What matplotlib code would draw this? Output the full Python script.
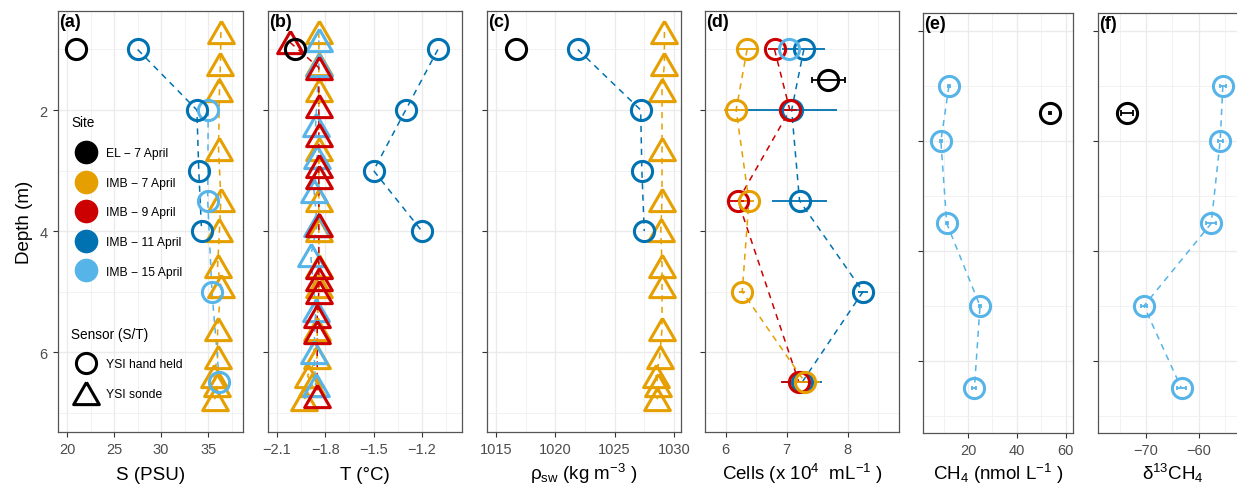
import matplotlib
matplotlib.use("Agg")
import matplotlib.pyplot as plt
from matplotlib.lines import Line2D

plt.rcParams["font.family"] = ["Liberation Sans", "DejaVu Sans"]
plt.rcParams["mathtext.fontset"] = "custom"
plt.rcParams["mathtext.rm"] = "Liberation Sans"
plt.rcParams["mathtext.it"] = "Liberation Sans:italic"
plt.rcParams["mathtext.default"] = "regular"

BLACK, ORANGE, RED, DBLUE, LBLUE = "#000000", "#E69F00", "#CC0000", "#0072B2", "#56B4E9"

# sonde depths (IMB 7 April)
son7_d = [0.71, 1.24, 1.67, 2.64, 3.48, 3.99, 4.58, 4.91, 5.62, 6.08, 6.39, 6.55, 6.78]
son7_S = [36.35, 36.3, 36.2, 36.1, 36.35, 36.2, 36.0, 36.35, 36.0, 36.0, 35.6, 35.9, 35.7]
son7_T = [-1.84, -1.84, -1.84, -1.84, -1.84, -1.84, -1.84, -1.84, -1.85, -1.85, -1.91, -1.88, -1.93]
son7_rho = [1029.2, 1029.2, 1029.0, 1029.0, 1029.0, 1028.9, 1029.0, 1029.0, 1029.0, 1028.8, 1028.5, 1028.7, 1028.6]
# sonde IMB 9 April
son9_d = [0.88, 1.3, 1.93, 2.42, 2.92, 3.1, 3.9, 4.6, 4.8, 5.0, 5.4, 5.67, 6.72]
son9_T = [-2.02, -1.84, -1.84, -1.84, -1.84, -1.84, -1.84, -1.84, -1.84, -1.84, -1.85, -1.85, -1.85]
# sonde IMB 15 April
son15_d = [0.85, 1.25, 2.25, 2.78, 3.33, 3.9, 4.4, 5.3, 6.0, 6.55]
son15_T = [-1.84, -1.84, -1.86, -1.85, -1.87, -1.85, -1.89, -1.86, -1.87, -1.86]

# hand held
el_d = [1.0]
el_S, el_T, el_rho = [21.0], [-1.99], [1016.7]
h11_d = [1.0, 2.0, 3.0, 4.0]
h11_S = [27.5, 33.8, 34.0, 34.3]
h11_T = [-1.1, -1.3, -1.5, -1.2]
h11_rho = [1021.9, 1027.2, 1027.3, 1027.5]
h15_d = [2.0, 3.5, 5.0, 6.5]
h15_S = [35.0, 34.95, 35.4, 36.2]

# cells
cell_d = [1.0, 2.0, 3.5, 5.0, 6.5]
cell7 = [6.35, 6.17, 6.38, 6.27, 7.3]
cell7_err = [0.18, 0.2, 0.08, 0.05, 0.25]
cell9_d = [1.0, 2.0, 3.5, 6.5]
cell9 = [6.8, 7.05, 6.2, 7.2]
cell9_err = [0.1, 0.12, 0.15, 0.3]
cell11 = [7.28, 7.08, 7.21, 8.25, 7.25]
cell11_err = [0.35, 0.75, 0.45, 0.08, 0.32]
cell15_d, cell15 = [1.0], [7.03]
cellEL_d, cellEL, cellEL_err = [1.5], [7.68], [0.27]

# methane
ch4_d = [1.0, 2.0, 3.5, 5.0, 6.5]
ch4 = [12.2, 8.9, 11.3, 24.9, 22.6]
ch4_err = [0.4, 0.4, 0.5, 0.6, 0.8]
ch4EL_d, ch4EL, ch4EL_err = [1.5], [53.5], [0.5]
d13 = [-55.5, -56.0, -57.7, -70.4, -63.3]
d13_err = [0.6, 0.5, 0.9, 0.6, 0.8]
d13EL, d13EL_err = [-73.6], [1.2]

W, H = 1237, 489
fig = plt.figure(figsize=(W / 100, H / 100), dpi=100)
def box(l, r, t, b):
    return [l / W, 1 - b / H, (r - l) / W, (b - t) / H]

TRI = [(0, 0.866), (-1, -0.866), (1, -0.866), (0, 0.866)]
CIRC_MS, TRI_MS = 14.5, 18.5

def series(ax, x, d, c, tri=False, xerr=None, line=True, cap=1.8):
    if line:
        ax.plot(x, d, ls=(0, (4, 3.5)), color=c, lw=1.1, zorder=2)
    if xerr is not None:
        ax.errorbar(x, d, xerr=xerr, fmt="none", ecolor=c, elinewidth=1.3, capsize=cap, capthick=1.3, zorder=3)
    ax.plot(x, d, ls="none", marker=TRI if tri else "o", ms=TRI_MS if tri else CIRC_MS,
            mfc="none", mec=c, mew=2.2, zorder=4)

def style(ax, xlim, xt, xm, ylim, yt, ym, label, tag, ylab=False, base=-0.1116):
    ax.set_xlim(*xlim); ax.set_ylim(*ylim)
    ax.set_xticks(xt); ax.set_xticks(xm, minor=True)
    ax.set_yticks(yt); ax.set_yticks(ym, minor=True)
    ax.grid(which="major", color="#EBEBEB", lw=1.0, zorder=0)
    ax.grid(which="minor", color="#F0F0F0", lw=0.6, zorder=0)
    ax.set_axisbelow(True)
    ax.tick_params(which="major", length=3.5, width=0.8, color="#333333", labelsize=10.5,
                   labelcolor="#4D4D4D", pad=4)
    ax.tick_params(which="minor", length=0)
    if not ylab:
        ax.set_yticklabels([])
    for s in ax.spines.values():
        s.set_color("#555555"); s.set_linewidth(0.9)
    ax.set_xlabel(label, fontsize=13.5, va="baseline")
    ax.xaxis.set_label_coords(0.5, base)
    ax.text(0.005, 0.995, tag, transform=ax.transAxes, ha="left", va="top", fontsize=13, fontweight="bold")

YL = (7.32, 0.364)
YL2 = (7.31, -0.327)

# (a) salinity
ax = fig.add_axes(box(58, 243, 12, 433))
series(ax, son7_S, son7_d, ORANGE, tri=True)
series(ax, h15_S, h15_d, LBLUE)
series(ax, h11_S, h11_d, DBLUE)
series(ax, el_S, el_d, BLACK, line=False)
style(ax, (19.04, 38.7), [20, 25, 30, 35], [22.5, 27.5, 32.5, 37.5], YL, [2, 4, 6], [1, 3, 5, 7],
      "S (PSU)", "(a)", ylab=True)
ax.set_ylabel("Depth (m)", fontsize=13.5, labelpad=5)
sites = ["EL \u2212 7 April", "IMB \u2212 7 April", "IMB \u2212 9 April", "IMB \u2212 11 April", "IMB \u2212 15 April"]
cols = [BLACK, ORANGE, RED, DBLUE, LBLUE]
h1 = [Line2D([], [], ls="none", marker="o", ms=16, mfc=c, mec=c) for c in cols]
leg1 = ax.legend(h1, sites, title="Site", loc="upper left", bbox_to_anchor=(0.027, 0.772), frameon=False,
                 fontsize=8.7, title_fontsize=9.8, labelspacing=1.46, handletextpad=0.43,
                 handlelength=2.4, alignment="left", borderpad=0.2)
ax.add_artist(leg1)
h2 = [Line2D([], [], ls="none", marker="o", ms=CIRC_MS, mfc="none", mec="k", mew=2.2),
      Line2D([], [], ls="none", marker=TRI, ms=TRI_MS, mfc="none", mec="k", mew=2.2)]
ax.legend(h2, ["YSI hand held", "YSI sonde"], title="Sensor (S/T)", loc="upper left",
          bbox_to_anchor=(0.027, 0.27), frameon=False, fontsize=8.7, title_fontsize=9.8,
          labelspacing=1.46, handletextpad=0.43, handlelength=2.4, alignment="left", borderpad=0.2)

# (b) temperature
ax = fig.add_axes(box(268, 462, 12, 433))
series(ax, son7_T, son7_d, ORANGE, tri=True)
series(ax, son15_T, son15_d, LBLUE, tri=True)
series(ax, son9_T, son9_d, RED, tri=True)
series(ax, h11_T, h11_d, DBLUE)
series(ax, el_T, el_d, BLACK, line=False)
style(ax, (-2.156, -0.95), [-2.1, -1.8, -1.5, -1.2], [-1.95, -1.65, -1.35, -1.05], YL, [2, 4, 6],
      [1, 3, 5, 7], "T (\u00b0C)", "(b)")

# (c) density
ax = fig.add_axes(box(487, 681, 12, 433))
series(ax, son7_rho, son7_d, ORANGE, tri=True)
series(ax, h11_rho, h11_d, DBLUE)
series(ax, el_rho, el_d, BLACK, line=False)
style(ax, (1014.24, 1030.6), [1015, 1020, 1025, 1030], [1017.5, 1022.5, 1027.5], YL, [2, 4, 6],
      [1, 3, 5, 7], r"$\rho_{sw}$ (kg m$^{-3}$ )", "(c)")

# (d) cells
ax = fig.add_axes(box(705, 899, 12, 433))
series(ax, cell11, cell_d, DBLUE, xerr=cell11_err, cap=0)
series(ax, cell9, cell9_d, RED, xerr=cell9_err, cap=0)
series(ax, cell7, cell_d, ORANGE, xerr=cell7_err, cap=0)
series(ax, cell15, cell15_d, LBLUE, line=False)
series(ax, cellEL, cellEL_d, BLACK, xerr=cellEL_err, line=False, cap=2.5)
style(ax, (5.66, 8.84), [6, 7, 8], [6.5, 7.5, 8.5], YL, [2, 4, 6], [1, 3, 5, 7],
      r"Cells (x 10$^{4}$  mL$^{-1}$ )", "(d)")

# (e) CH4
ax = fig.add_axes(box(923, 1073, 14, 434))
series(ax, ch4, ch4_d, LBLUE, xerr=ch4_err, cap=1.2)
series(ax, ch4EL, ch4EL_d, BLACK, xerr=ch4EL_err, line=False, cap=1.5)
style(ax, (1.6, 62.9), [20, 40, 60], [10, 30, 50], YL2, [0, 2, 4, 6], [1, 3, 5, 7],
      r"CH$_{4}$ (nmol L$^{-1}$ )", "(e)", base=-0.1095)

# (f) d13C-CH4
ax = fig.add_axes(box(1098, 1248, 14, 434))
series(ax, d13, ch4_d, LBLUE, xerr=d13_err, cap=1.2)
series(ax, d13EL, ch4EL_d, BLACK, xerr=d13EL_err, line=False, cap=2.2)
style(ax, (-79.06, -50.75), [-70, -60], [-75, -65, -55], YL2, [0, 2, 4, 6], [1, 3, 5, 7],
      r"$\delta^{13}$CH$_{4}$", "(f)", base=-0.1095)

fig.savefig("out.png", dpi=100)
